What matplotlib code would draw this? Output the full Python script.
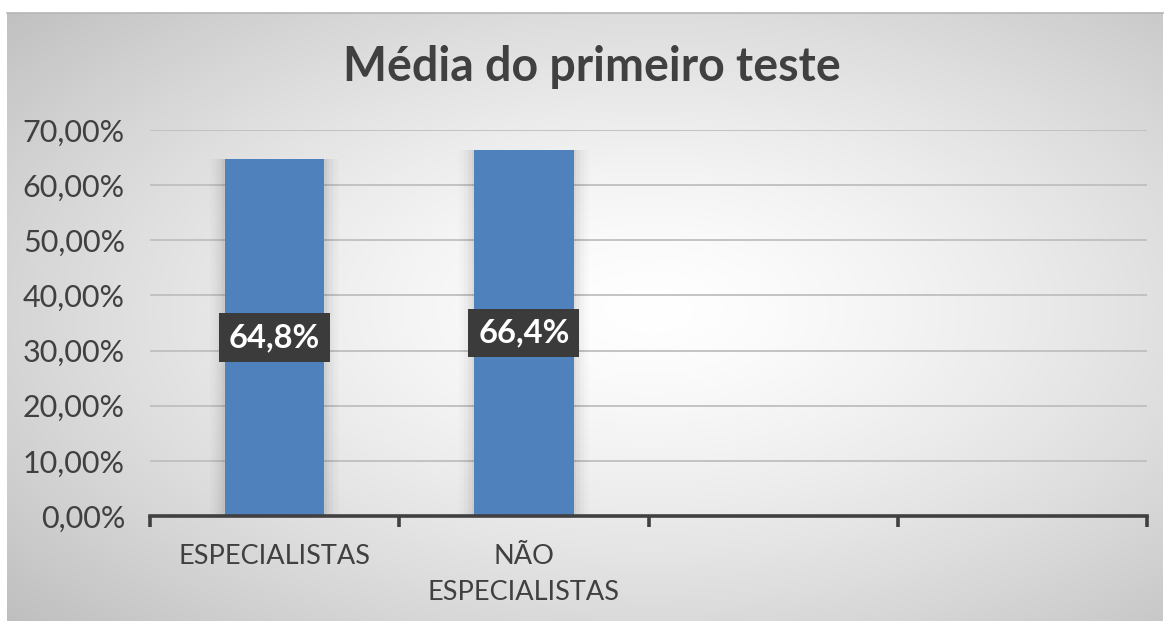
import numpy as np
import matplotlib
matplotlib.use("Agg")
import matplotlib.pyplot as plt

categories = ["ESPECIALISTAS", "NÃO\nESPECIALISTAS", "", ""]
values = [0.648, 0.664, np.nan, np.nan]
value_labels = ["64,8%", "66,4%"]
yticks = [0.0, 0.1, 0.2, 0.3, 0.4, 0.5, 0.6, 0.7]
ytick_labels = ["0,00%", "10,00%", "20,00%", "30,00%", "40,00%", "50,00%", "60,00%", "70,00%"]
title = "Média do primeiro teste"

plt.rcParams['font.family'] = ['Lato', 'DejaVu Sans']

W, H = 1165, 623
fig = plt.figure(figsize=(W / 100, H / 100), dpi=100)
fig.patch.set_facecolor("white")

# background panel with radial gradient
px0, py0, px1, py1 = 7, 13, 1163, 621
bg = fig.add_axes([px0 / W, 1 - py1 / H, (px1 - px0) / W, (py1 - py0) / H], zorder=-5)
xs = np.linspace(px0, px1, 400)
ys = np.linspace(py0, py1, 220)
X, Y = np.meshgrid(xs, ys)
cx, cy = 650, 310
r = np.sqrt(((X - cx) / 620) ** 2 + ((Y - cy) / 330) ** 2)
g = 255 - 64 * np.clip(r / 1.4, 0, 1) ** 1.4
img = np.dstack([g, g, g]) / 255
bg.imshow(img, aspect="auto", extent=[0, 1, 0, 1], origin="upper", interpolation="bilinear")
bg.set_axis_off()
bg.plot([0, 1], [1, 1], color="#b5b5b5", lw=1.2, transform=bg.transAxes, clip_on=False)

ax = fig.add_axes([150 / W, 1 - 516 / H, (1147 - 150) / W, (516 - 130) / H])
ax.set_facecolor("none")

x = np.arange(len(categories))
bw = 0.4
# soft shadow
for k, a in enumerate([0.03, 0.025, 0.02, 0.015, 0.012, 0.01]):
    ax.bar(x, values, width=bw + 0.02 * (k + 1), color="black", alpha=a, zorder=2, linewidth=0)
ax.bar(x, values, width=bw, color="#4f81bd", zorder=3, linewidth=0)

ax.set_xlim(-0.5, len(categories) - 0.5)
ax.set_ylim(0, 0.7)
ax.set_yticks(yticks)
ax.set_yticklabels(ytick_labels)
ax.yaxis.grid(True, color="#bfbfbf", lw=1.3)
ax.set_axisbelow(True)
for s in ["left", "right", "top"]:
    ax.spines[s].set_visible(False)
ax.spines["bottom"].set_color("#404040")
ax.spines["bottom"].set_linewidth(2.6)
ax.spines["bottom"].set_zorder(4)
ax.tick_params(axis="y", length=0, pad=18, labelsize=22, labelcolor="#404040")

ax.set_xticks(np.arange(len(categories) + 1) - 0.5, minor=False)
ax.set_xticklabels([])
ax.tick_params(axis="x", which="major", direction="out", length=8, width=2.6, color="#404040")
ax.set_xticks(x, minor=True)
ax.set_xticklabels(categories, minor=True)
ax.tick_params(axis="x", which="minor", length=0, pad=20, labelsize=19.5, labelcolor="#404040")
for t in ax.get_xticklabels(minor=True):
    t.set_linespacing(1.55)
    t.set_verticalalignment("top")
    t.set_horizontalalignment("center")

for xi, v, lab in zip(x, values, value_labels):
    ax.text(xi, v / 2, lab, ha="center", va="center", fontsize=23.5, fontweight="bold",
            color="white", zorder=6,
            bbox=dict(boxstyle="square,pad=0.3", facecolor="#3b3b3b", edgecolor="none"))

fig.text(592 / W, 1 - 67 / H, title, ha="center", va="center", fontsize=33.5,
         fontweight="bold", color="#404040")

fig.savefig("out.png", dpi=100, facecolor="white")
